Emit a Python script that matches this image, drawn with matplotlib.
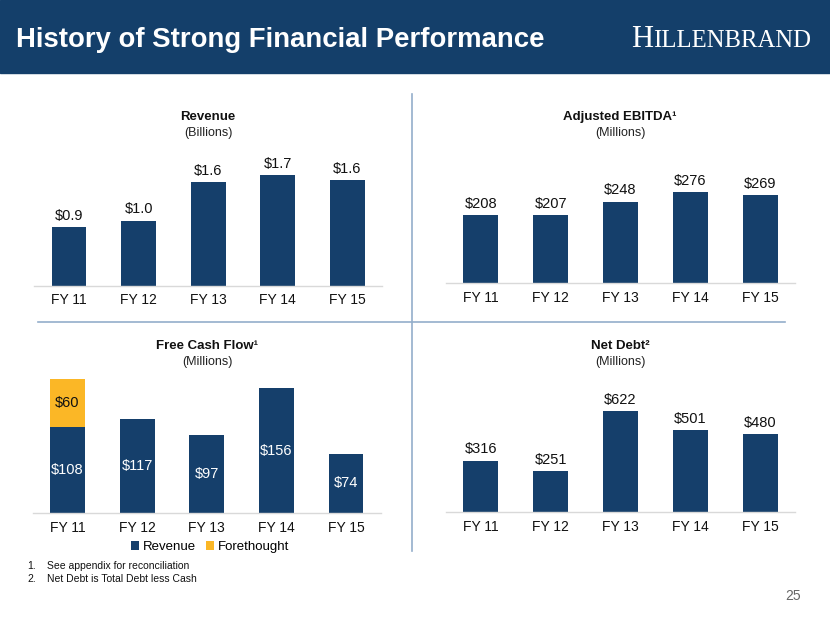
"""History of Strong Financial Performance -- four small bar panels on one slide."""
import matplotlib
matplotlib.use("Agg")
import matplotlib.pyplot as plt
from matplotlib.lines import Line2D
from matplotlib.patches import Rectangle

plt.rcParams["font.family"] = ["Liberation Sans", "DejaVu Sans"]

# data
years = ["FY 11", "FY 12", "FY 13", "FY 14", "FY 15"]
revenue_bn = [0.90, 1.00, 1.59, 1.70, 1.63]
ebitda_m = [208, 207, 248, 276, 269]
fcf_revenue_m = [108, 117, 97, 156, 74]
fcf_forethought_m = [60, 0, 0, 0, 0]
net_debt_m = [316, 251, 622, 501, 480]
footnotes = ["See appendix for reconciliation", "Net Debt is Total Debt less Cash"]

NAVY = "#153F6B"
GOLD = "#FBB726"
DIVIDER = "#94AECB"
W, H = 830, 623

fig = plt.figure(figsize=(W / 100, H / 100), dpi=100)


def fx(x):
    return x / W


def fy(y):
    return 1 - y / H


def panel(left, right, base, top, px_per_unit):
    ax = fig.add_axes([fx(left), fy(base), fx(right - left), (base - top) / H])
    ax.set_xlim(-0.5, 4.5)
    ax.set_ylim(0, (base - top) / px_per_unit)
    for s in ("top", "right", "left"):
        ax.spines[s].set_visible(False)
    ax.spines["bottom"].set_color("#D9D9D9")
    ax.spines["bottom"].set_linewidth(1.0)
    ax.set_yticks([])
    ax.set_xticks(range(len(years)))
    ax.set_xticklabels(years, fontsize=10, color="#111111")
    ax.tick_params(axis="x", length=0, pad=5.5)
    ax.patch.set_alpha(0)
    return ax


def label_tops(ax, vals, fmt):
    for i, v in enumerate(vals):
        ax.annotate(fmt(v), (i, v), xytext=(0, 3), textcoords="offset points",
                    ha="center", va="bottom", fontsize=10.5, color="#111111")


def titles(cx, y, bold, sub):
    fig.text(fx(cx), fy(y), bold, ha="center", va="center", fontsize=9.5,
             fontweight="bold", color="#111111")
    fig.text(fx(cx), fy(y + 16), sub, ha="center", va="center", fontsize=9,
             color="#222222")


# header band
fig.patches.append(Rectangle((0, fy(73)), 1, 73 / H, transform=fig.transFigure,
                             color="#143F6A", zorder=0))
fig.text(fx(16), fy(47), "History of Strong Financial Performance", ha="left",
         va="baseline", fontsize=19.8, fontweight="bold", color="white")
fig.text(fx(631), fy(47), "H", ha="left", va="baseline", fontsize=22,
         family="Liberation Serif", color="white")
fig.text(fx(653), fy(47), "ILLENBRAND", ha="left", va="baseline", fontsize=17.8,
         family="Liberation Serif", color="white")

# dividers
fig.add_artist(Line2D([fx(411.7), fx(411.7)], [fy(94), fy(551)], color=DIVIDER, lw=1.2))
fig.add_artist(Line2D([fx(38), fx(785)], [fy(321.7), fy(321.7)], color=DIVIDER, lw=1.2))

# Revenue
ax = panel(34.2, 382.3, 285.5, 140, 64.9)
ax.bar(range(5), revenue_bn, width=0.5, color=NAVY)
label_tops(ax, revenue_bn, lambda v: f"${v:.1f}")
titles(208, 117, "Revenue", "(Billions)")

# Adjusted EBITDA
ax = panel(446, 795, 283, 140, 0.328)
ax.bar(range(5), ebitda_m, width=0.5, color=NAVY)
label_tops(ax, ebitda_m, lambda v: f"${v}")
titles(620, 117, "Adjusted EBITDA¹", "(Millions)")

# Free Cash Flow
ax = panel(32.7, 380.9, 513, 372, 0.8)
ax.bar(range(5), fcf_revenue_m, width=0.5, color=NAVY, label="Revenue")
ax.bar(range(5), fcf_forethought_m, bottom=fcf_revenue_m, width=0.5, color=GOLD,
       label="Forethought")
for i, v in enumerate(fcf_revenue_m):
    ax.text(i, v / 2, f"${v}", ha="center", va="center", fontsize=10.5, color="white")
for i, v in enumerate(fcf_forethought_m):
    if v:
        ax.text(i, fcf_revenue_m[i] + v / 2, f"${v}", ha="center", va="center",
                fontsize=10.5, color="#111111")
ax.legend(loc="center", bbox_to_anchor=(fx(210), fy(547)),
          bbox_transform=fig.transFigure, ncol=2, frameon=False, fontsize=9.5,
          handlelength=0.6, handleheight=0.6, handletextpad=0.3, columnspacing=0.8)
titles(207, 346, "Free Cash Flow¹", "(Millions)")

# Net Debt
ax = panel(446, 795, 512, 380, 0.1627)
ax.bar(range(5), net_debt_m, width=0.5, color=NAVY)
label_tops(ax, net_debt_m, lambda v: f"${v}")
titles(620, 346, "Net Debt²", "(Millions)")

# footnotes and page number
for k, note in enumerate(footnotes):
    y = fy(566 + 13 * k)
    fig.text(fx(27), y, f"{k + 1}.", ha="left", va="center", fontsize=7.5, color="#111111")
    fig.text(fx(47), y, note, ha="left", va="center", fontsize=7.5, color="#111111")
fig.text(fx(793), fy(596), "25", ha="center", va="center", fontsize=10, color="#666666")

fig.savefig("out.png", dpi=100)
